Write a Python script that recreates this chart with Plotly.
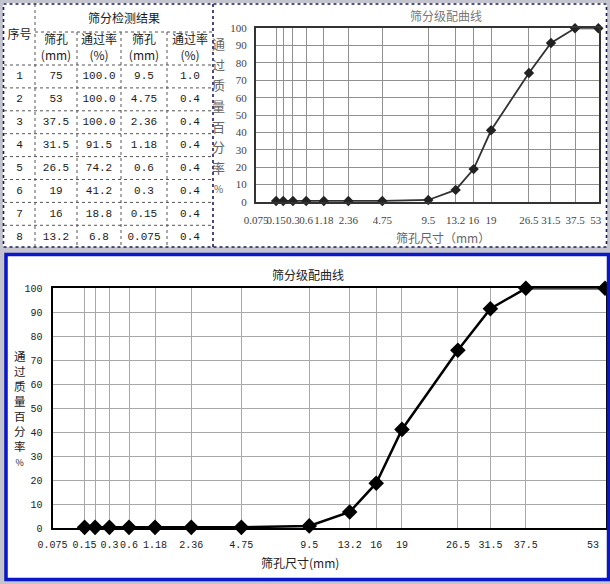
import numpy as np
import plotly.graph_objects as go

# ---------------- data ----------------
sieve_sizes = [0.075, 0.15, 0.3, 0.6, 1.18, 2.36, 4.75, 9.5, 13.2, 16, 19, 26.5, 31.5, 37.5, 53, 75]
size_labels = ["0.075", "0.15", "0.3", "0.6", "1.18", "2.36", "4.75", "9.5", "13.2",
               "16", "19", "26.5", "31.5", "37.5", "53", "75"]
passing = [0.4, 0.4, 0.4, 0.4, 0.4, 0.4, 0.4, 1.0, 6.8, 18.8, 41.2, 74.2, 91.5, 100.0, 100.0, 100.0]
y_ticks = list(range(0, 101, 10))

chart_title = "筛分级配曲线"
x_title_bottom = "筛孔尺寸(mm)"
x_title_top = "筛孔尺寸（mm）"
y_title = "通过质量百分率%"
table_title = "筛分检测结果"
table_header = ["序号", "筛孔<br>(mm)", "通过率<br>(%)", "筛孔<br>(mm)", "通过率<br>(%)"]
row_numbers = [1, 2, 3, 4, 5, 6, 7, 8]

# ---------------- geometry helpers ----------------
W, H = 610, 584
def fx(px):
    return px / W
def fy(py):
    return 1 - py / H

P = 0.45  # gradation-chart power scale
sizes_chart = np.array(sieve_sizes[:-1])      # up to 53 mm
pass_chart = np.array(passing[:-1])
t = sizes_chart ** P

fig = go.Figure()

# ---------------- bottom chart ----------------
xb_min, xb_max = -0.037, 5.980
tick_b_vals = [xb_min] + list(t)
tick_b_text = [size_labels[0], size_labels[1], ""] + size_labels[2:14] + [size_labels[14] + "\u00a0" * 4]

fig.add_trace(go.Scatter(
    x=t, y=pass_chart, mode="lines+markers",
    line=dict(color="black", width=2.5),
    marker=dict(symbol="diamond", size=12, color="black"),
    cliponaxis=False, xaxis="x", yaxis="y", showlegend=False, hoverinfo="skip"))

# ---------------- top chart ----------------
xt_min, xt_max = -0.011, 5.494
t_top = np.minimum(t, xt_max - 0.01)
tick_t_vals = [xt_min] + list(t_top)
tick_t_text = [size_labels[0], size_labels[1], ""] + size_labels[2:14] + [size_labels[14] + "\u00a0" * 2]

fig.add_trace(go.Scatter(
    x=t_top, y=pass_chart, mode="lines+markers",
    line=dict(color="#333333", width=1.8),
    marker=dict(symbol="diamond", size=8, color="#222222"),
    cliponaxis=False, xaxis="x2", yaxis="y2", showlegend=False, hoverinfo="skip"))

# ---------------- table (pixel axis) ----------------
col_edges = [4, 35, 77, 121, 167, 213]
col_centers = [(col_edges[i] + col_edges[i + 1]) / 2 for i in range(5)]
row_top = 65.0
row_h = 22.9
row_centers = [row_top + row_h * (i + 0.5) for i in range(8)]

left_sizes = [size_labels[i] for i in range(15, 7, -1)]
left_pass = ["%.1f" % passing[i] for i in range(15, 7, -1)]
right_sizes = [size_labels[i] for i in range(7, -1, -1)]
right_pass = ["%.1f" % passing[i] for i in range(7, -1, -1)]

vx, vy, vt = [], [], []
for r in range(8):
    for c, col in enumerate([row_numbers, left_sizes, left_pass, right_sizes, right_pass]):
        vx.append(col_centers[c])
        vy.append(row_centers[r])
        vt.append(str(col[r]))
fig.add_trace(go.Scatter(
    x=vx, y=vy, text=vt, mode="text",
    textfont=dict(family="Liberation Mono, Noto Sans CJK SC", size=11, color="#1a1a1a"),
    xaxis="x3", yaxis="y3", showlegend=False, hoverinfo="skip"))

hx = [col_centers[0]] + col_centers[1:]
hy = [36] + [49] * 4
fig.add_trace(go.Scatter(
    x=hx + [(col_edges[1] + col_edges[5]) / 2], y=hy + [20],
    text=table_header + [table_title], mode="text",
    textfont=dict(family="Noto Sans CJK SC", size=12, color="#1a1a1a"),
    xaxis="x3", yaxis="y3", showlegend=False, hoverinfo="skip"))

# ---------------- shapes ----------------
shapes = []
shapes.append(dict(type="rect", xref="paper", yref="paper", x0=fx(3), x1=fx(607), y0=fy(247), y1=fy(3),
                   fillcolor="white", line=dict(width=0), layer="below"))
shapes.append(dict(type="rect", xref="paper", yref="paper", x0=fx(5), x1=fx(609), y0=fy(581), y1=fy(253),
                   fillcolor="white", line=dict(width=0), layer="below"))
shapes.append(dict(type="rect", xref="paper", yref="paper", x0=fx(3.5), x1=fx(606.5), y0=fy(247), y1=fy(4),
                   line=dict(color="#1c1c5c", width=1.6, dash="dot"), layer="above"))
shapes.append(dict(type="line", xref="paper", yref="paper", x0=fx(213), x1=fx(213), y0=fy(247), y1=fy(4),
                   line=dict(color="#1c1c5c", width=1.6, dash="dot"), layer="above"))
grid_style = dict(color="#555555", width=1, dash="dot")
shapes.append(dict(type="line", xref="paper", yref="paper", x0=fx(35), x1=fx(213), y0=fy(32), y1=fy(32), line=grid_style))
for i in range(8):
    yy = row_top + row_h * i
    shapes.append(dict(type="line", xref="paper", yref="paper", x0=fx(4), x1=fx(213), y0=fy(yy), y1=fy(yy), line=grid_style))
shapes.append(dict(type="line", xref="paper", yref="paper", x0=fx(35), x1=fx(35), y0=fy(4), y1=fy(247), line=grid_style))
for xx in col_edges[2:5]:
    shapes.append(dict(type="line", xref="paper", yref="paper", x0=fx(xx), x1=fx(xx), y0=fy(32), y1=fy(247), line=grid_style))
shapes.append(dict(type="rect", xref="paper", yref="paper", x0=fx(6), x1=fx(608.5), y0=fy(579.5), y1=fy(254.5),
                   line=dict(color="#0a16c8", width=3.5), layer="above"))

# ---------------- annotations ----------------
def note(px, py, text, size, color, xanchor="center"):
    return dict(x=fx(px), y=fy(py), xref="paper", yref="paper", text=text, showarrow=False,
                xanchor=xanchor, yanchor="middle",
                font=dict(family="Noto Sans CJK SC", size=size, color=color))

ann = []
ann.append(note(308, 275, chart_title, 12, "#222222"))
ann.append(note(300, 562, x_title_bottom, 12, "#222222"))
y_title_stack = "<br>".join(list(y_title[:-1])) + "<br><span style='font-size:9px'>%</span>"
ann.append(note(20, 408, y_title_stack, 11.5, "#222222"))
ann.append(note(446, 15, chart_title, 12, "#777777"))
ann.append(note(443, 237, x_title_top, 12, "#666666"))
for i, ch in enumerate(y_title):
    ann.append(note(218, 43.3 + 20.7 * i, ch, 13 if ch != "%" else 10, "#666666"))

# ---------------- layout ----------------
fig.update_layout(
    width=W, height=H, margin=dict(l=0, r=0, t=0, b=0, autoexpand=False),
    paper_bgcolor="#c4c4ce", plot_bgcolor="rgba(0,0,0,0)",
    shapes=shapes, annotations=ann, showlegend=False,
    xaxis=dict(domain=[fx(52.5), fx(606)], range=[xb_min, xb_max], tickmode="array",
               tickvals=tick_b_vals, ticktext=tick_b_text, tickangle=0, automargin=False,
               ticklabeloverflow="allow",
               ticks="outside", ticklen=6, tickcolor="rgba(0,0,0,0)",
               tickfont=dict(family="Liberation Mono", size=10, color="#222222"),
               showgrid=True, gridcolor="#a8a8a8", gridwidth=1,
               showline=True, linecolor="black", linewidth=2, mirror=True, zeroline=False),
    yaxis=dict(domain=[fy(528.3), fy(288.3)], range=[0, 100], tickmode="array", tickvals=y_ticks,
               ticks="outside", ticklen=6, tickcolor="rgba(0,0,0,0)", automargin=False,
               tickfont=dict(family="Liberation Mono", size=10, color="#222222"),
               showgrid=True, gridcolor="#a8a8a8", gridwidth=1,
               showline=True, linecolor="black", linewidth=2, mirror=True, zeroline=False),
    xaxis2=dict(domain=[fx(256), fx(599)], range=[xt_min, xt_max], tickmode="array",
                tickvals=tick_t_vals, ticktext=tick_t_text, tickangle=0, automargin=False,
                ticklabeloverflow="allow",
                ticks="outside", ticklen=7, tickcolor="rgba(0,0,0,0)",
                tickfont=dict(family="Liberation Serif", size=11, color="#444444"),
                showgrid=True, gridcolor="#909090", gridwidth=1,
                showline=True, linecolor="#333333", linewidth=2, mirror=True, zeroline=False,
                anchor="y2"),
    yaxis2=dict(domain=[fy(201.7), fy(28.3)], range=[0, 100], tickmode="array", tickvals=y_ticks,
                ticks="outside", ticklen=5, tickcolor="rgba(0,0,0,0)", automargin=False,
                tickfont=dict(family="Liberation Serif", size=11, color="#444444"),
                showgrid=True, gridcolor="#909090", gridwidth=1,
                showline=True, linecolor="#333333", linewidth=2, mirror=True, zeroline=False,
                anchor="x2"),
    xaxis3=dict(domain=[0, 1], range=[0, W], visible=False, anchor="y3"),
    yaxis3=dict(domain=[0, 1], range=[H, 0], visible=False, anchor="x3"),
)

fig.write_html("out.html")
